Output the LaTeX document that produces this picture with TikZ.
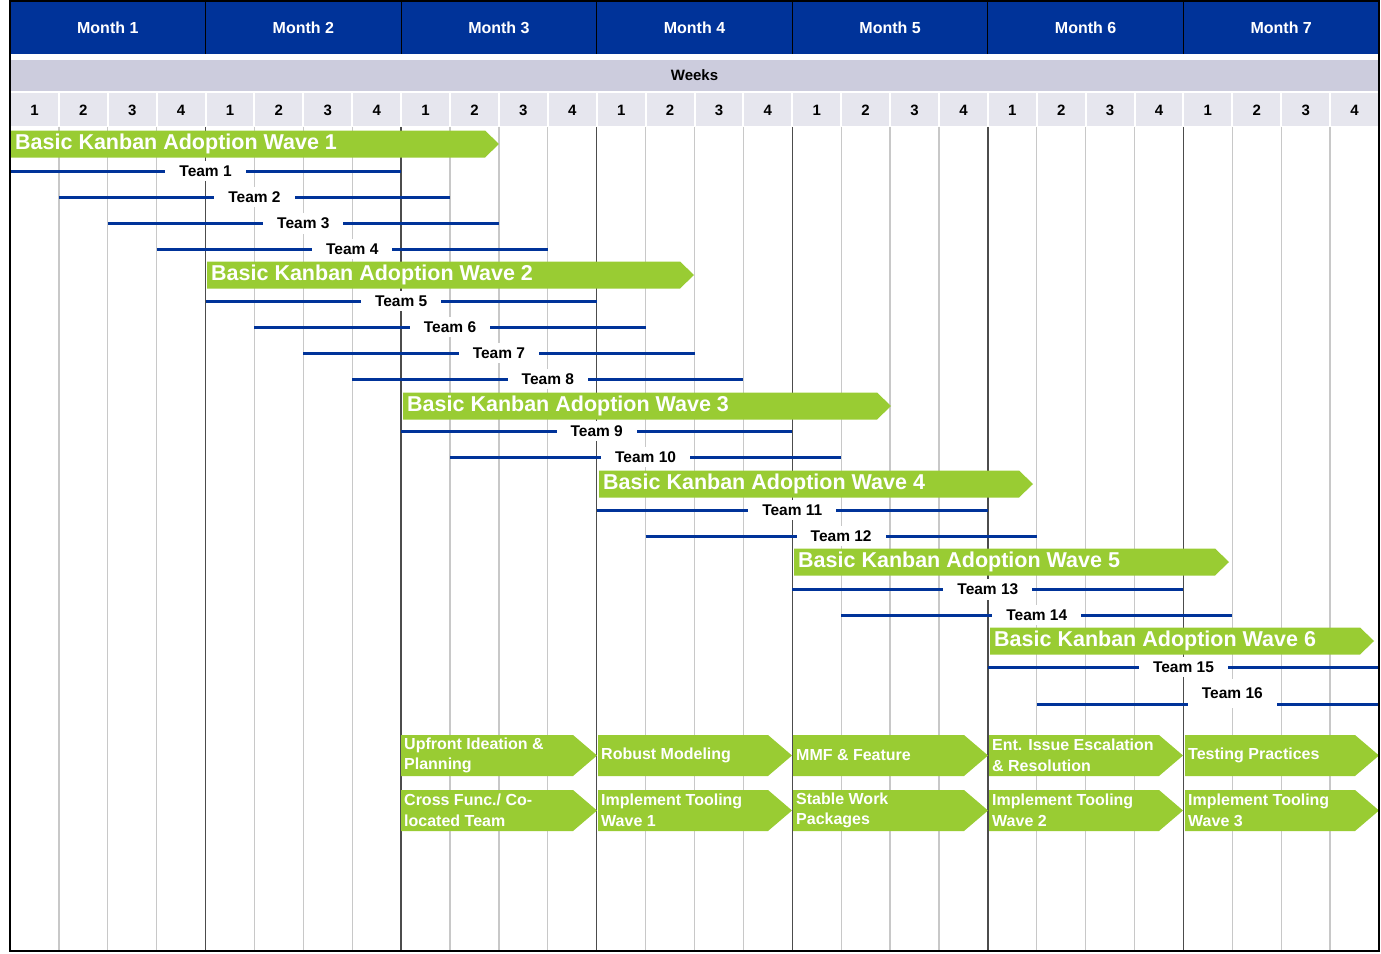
\documentclass[tikz,border=0pt]{standalone}
\usepackage{fontspec}
\setmainfont{Liberation Sans}
\usetikzlibrary{positioning,calc}
\definecolor{hdrblue}{RGB}{0,51,153}
\definecolor{weekband}{RGB}{204,204,221}
\definecolor{weekcell}{RGB}{230,230,238}
\definecolor{kgreen}{RGB}{153,204,51}
\definecolor{gridgray}{RGB}{200,200,200}
% green wave bar: name, x start, tip x, centre y, text
\newcommand{\wavebar}[5]{%
  \fill[kgreen] (#2,#4-13.5) -- (#3-14,#4-13.5) -- (#3,#4) -- (#3-14,#4+13.5) -- (#2,#4+13.5) -- cycle;
  \node[wavelbl] (#1) at (#2+4,#4) {#5};}
% practice chevron: name, x start, tip x, top y, text
\newcommand{\pracbar}[5]{%
  \fill[kgreen] (#2,#4) -- (#3-24,#4) -- (#3,#4+20.5) -- (#3-24,#4+41) -- (#2,#4+41) -- cycle;
  \node[praclbl] (#1) at (#2+3,#4+20.5) {#5};}

\begin{document}
\begin{tikzpicture}[x=1pt,y=-1pt,
    teamline/.style={draw=hdrblue,line width=3pt},
    teamlbl/.style={fill=white,font=\fontsize{15.5}{18}\selectfont\bfseries,inner xsep=14pt,inner ysep=5pt},
    wavelbl/.style={anchor=west,text=white,font=\fontsize{21.5}{24}\selectfont\bfseries,inner sep=0pt},
    praclbl/.style={anchor=west,align=left,text=white,font=\fontsize{16}{20.5}\selectfont\bfseries,inner sep=0pt},
    hdrlbl/.style={text=white,font=\fontsize{16}{18}\selectfont\bfseries},
    weeknum/.style={font=\fontsize{15}{18}\selectfont\bfseries}]
  \useasboundingbox (0,0) rectangle (1381,953);
  \fill[white] (0,0) rectangle (1381,953);

  % header rows
  \fill[hdrblue] (10,1) rectangle (1379,54);
  \fill[weekband] (11,60) rectangle (1379,91);
  \node[font=\fontsize{15}{18}\selectfont\bfseries] (weeks) at (694.5,75) {Weeks};
  \foreach \m in {1,...,7} {
    \pgfmathsetmacro{\xa}{10+(\m-1)*195.571}
    \node[hdrlbl] (m\m) at (\xa+97.79,28) {Month \m};
    \draw[black,line width=1pt] (\xa,1) -- (\xa,54);
    \foreach \w in {1,...,4} {
      \pgfmathsetmacro{\xb}{\xa+(\w-1)*48.893}
      \fill[weekcell] (\xb+1,93) rectangle (\xb+47.9,126);
      \node[weeknum] (wk\m\w) at (\xb+24.45,110) {\w};
    }
  }

  % grid
  \foreach \i in {1,...,27} {
    \pgfmathsetmacro{\xg}{10+\i*48.893}
    \pgfmathtruncatemacro{\mw}{mod(\i,4)}
    \ifnum\mw=0
      \draw[black!70,line width=1.3pt] (\xg,127) -- (\xg,951);
    \else
      \draw[gridgray,line width=1.3pt] (\xg,127) -- (\xg,951);
    \fi
  }

  % waves
  \wavebar{w1}{11}{499}{144}{Basic Kanban Adoption Wave 1}
  \wavebar{w2}{207}{694}{275}{Basic Kanban Adoption Wave 2}
  \wavebar{w3}{403}{891}{406}{Basic Kanban Adoption Wave 3}
  \wavebar{w4}{599}{1033}{484}{Basic Kanban Adoption Wave 4}
  \wavebar{w5}{794}{1229}{562}{Basic Kanban Adoption Wave 5}
  \wavebar{w6}{990}{1374}{641}{Basic Kanban Adoption Wave 6}

  % teams (start week / end week / y)
  \foreach \n/\a/\b/\y in {1/0/8/171, 2/1/9/197, 3/2/10/223, 4/3/11/249,
      5/4/12/301, 6/5/13/327, 7/6/14/353, 8/7/15/379, 9/8/16/431, 10/9/17/457,
      11/12/20/510, 12/13/21/536, 13/16/24/589, 14/17/25/615, 15/20/28/667} {
    \coordinate (ts\n) at (10+\a*48.893,\y);
    \coordinate (te\n) at (10+\b*48.893,\y);
    \draw[teamline] (ts\n) -- node[teamlbl] (t\n) {Team \n} (te\n);
  }
  \coordinate (ts16) at (10+21*48.893,704);
  \coordinate (te16) at (1379,704);
  \draw[teamline] (ts16) -- (te16);
  \node[teamlbl,minimum height=29pt] (t16) at (10+25*48.893,693) {Team 16};

  % practices
  \pracbar{pa1}{401}{597}{735}{Upfront Ideation \&\\Planning}
  \pracbar{pa2}{598}{792}{735}{Robust Modeling}
  \pracbar{pa3}{793}{988}{735}{MMF \& Feature}
  \pracbar{pa4}{989}{1183}{735}{Ent. Issue Escalation\\\& Resolution}
  \pracbar{pa5}{1185}{1379}{735}{Testing Practices}
  \pracbar{pb1}{401}{597}{790}{Cross Func./ Co-\\located Team}
  \pracbar{pb2}{598}{792}{790}{Implement Tooling\\Wave 1}
  \pracbar{pb3}{793}{988}{790}{Stable Work\\Packages}
  \pracbar{pb4}{989}{1183}{790}{Implement Tooling\\Wave 2}
  \pracbar{pb5}{1185}{1379}{790}{Implement Tooling\\Wave 3}

  % frame
  \draw[black,line width=2pt] (10,1) rectangle (1379,951);
\end{tikzpicture}
\end{document}
